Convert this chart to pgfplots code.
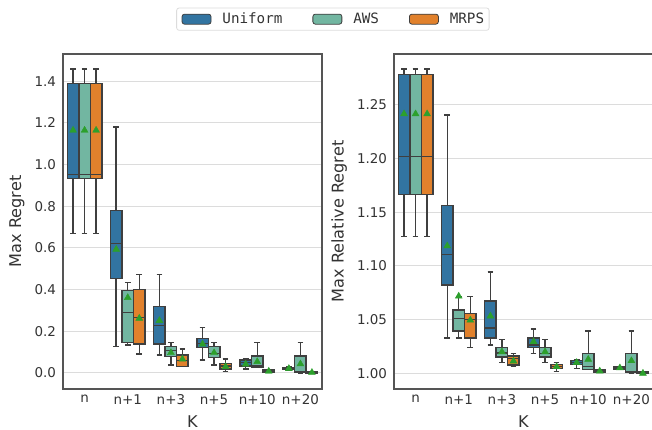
\documentclass[border=0pt]{standalone}
\usepackage{fontspec}
\setmainfont{DejaVu Sans}
\newfontfamily\monofont{DejaVu Sans Mono}
\usepackage{pgfplots}
\pgfplotsset{compat=1.18}
\usepgfplotslibrary{statistics}

\definecolor{cuni}{HTML}{3274A1}
\definecolor{caws}{HTML}{72B6A1}
\definecolor{cmrps}{HTML}{E1812C}
\definecolor{cedge}{HTML}{3F3F3F}
\definecolor{cmean}{HTML}{2CA02C}
\definecolor{cgrid}{HTML}{DCDCDC}
\definecolor{cframe}{HTML}{555555}
\definecolor{ctext}{HTML}{333333}

% box: colour, position, lower whisker, lower quartile, median, upper quartile, upper whisker
\newcommand{\bx}[7]{%
  \addplot[draw=cedge, fill=#1, line width=1.45bp,
    boxplot/draw direction=y,
    boxplot prepared={draw position=#2, lower whisker=#3, lower quartile=#4,
      median=#5, upper quartile=#6, upper whisker=#7,
      box extend=0.267, whisker extend=0.133}] coordinates {};}

\pgfplotsset{
  panel/.style={
    scale only axis, width=259bp, height=335bp,
    xmin=-0.5, xmax=5.5,
    xtick={0,1,2,3,4,5},
    xticklabels={n,n+1,n+3,n+5,n+10,n+20},
    major tick length=0pt,
    axis line style={cframe, line width=1.25bp},
    ymajorgrids, grid style={cgrid, line width=1bp},
    tick label style={ctext, font=\fontsize{13.5}{16}\selectfont},
    xticklabel style={yshift=-2bp},
    yticklabel style={xshift=-3.5bp},
    /pgf/number format/assume math mode=true,
    label style={ctext, font=\fontsize{16.2}{19}\selectfont},
    xlabel={K},
    xlabel style={at={(rel axis cs:0.5,-0.0976)}, anchor=center},
  },
  meanmk/.style={only marks, mark=triangle*, mark size=4bp,
    mark options={fill=cmean, draw=cmean, line width=0.4bp}},
}

\begin{document}
\begin{tikzpicture}
\useasboundingbox (0,0) rectangle (652bp,430bp);

% ---------------- left panel: Max Regret ----------------
\begin{axis}[panel,
  at={(63bp,41bp)}, anchor=south west,
  ymin=-0.077, ymax=1.53,
  ytick={0,0.2,0.4,0.6,0.8,1.0,1.2,1.4},
  yticklabel style={/pgf/number format/.cd, fixed, fixed zerofill, precision=1},
  ylabel={Max Regret},
  ylabel style={at={(rel axis cs:-0.178,0.5)}, anchor=center},
  legend columns=3,
  legend style={at={(rel axis cs:1.042,1.104)}, anchor=center,
    draw=cgrid, line width=0.8bp, rounded corners=2.5bp,
    inner xsep=5bp, inner ysep=3bp,
    font=\monofont\fontsize{14.3}{17}\selectfont, text=ctext,
    nodes={inner xsep=0pt, inner ysep=2bp},
    /tikz/every odd column/.append style={column sep=11bp},
    /tikz/every even column/.append style={column sep=30bp}},
  legend image code/.code={\draw[#1, line width=0.8bp] (0bp,-5bp) rectangle (29bp,5bp);},
]
\addlegendimage{draw=cedge, fill=cuni}\addlegendentry{Uniform}
\addlegendimage{draw=cedge, fill=caws}\addlegendentry{AWS}
\addlegendimage{draw=cedge, fill=cmrps}\addlegendentry{MRPS}

\bx{cuni}{-0.267}{0.670}{0.933}{0.953}{1.389}{1.458}
\bx{caws}{0}{0.670}{0.933}{0.953}{1.389}{1.458}
\bx{cmrps}{0.267}{0.670}{0.933}{0.953}{1.389}{1.458}

\bx{cuni}{0.733}{0.126}{0.454}{0.622}{0.778}{1.180}
\bx{caws}{1}{0.134}{0.147}{0.291}{0.395}{0.433}
\bx{cmrps}{1.267}{0.091}{0.138}{0.265}{0.401}{0.473}

\bx{cuni}{1.733}{0.086}{0.138}{0.227}{0.318}{0.473}
\bx{caws}{2}{0.038}{0.078}{0.107}{0.126}{0.145}
\bx{cmrps}{2.267}{0.030}{0.030}{0.059}{0.086}{0.115}

\bx{cuni}{2.733}{0.062}{0.123}{0.142}{0.166}{0.219}
\bx{caws}{3}{0.038}{0.075}{0.094}{0.126}{0.145}
\bx{cmrps}{3.267}{0.006}{0.018}{0.034}{0.046}{0.067}

\bx{cuni}{3.733}{0.018}{0.034}{0.051}{0.062}{0.070}
\bx{caws}{4}{0.025}{0.025}{0.034}{0.082}{0.145}
\bx{cmrps}{4.267}{0.001}{0.001}{0.006}{0.014}{0.014}

\bx{cuni}{4.733}{0.015}{0.018}{0.021}{0.025}{0.028}
\bx{caws}{5}{0.000}{0.001}{0.006}{0.082}{0.145}
\bx{cmrps}{5.267}{0.000}{0.000}{0.001}{0.004}{0.004}

\addplot[meanmk] coordinates {
  (-0.267,1.164) (0,1.164) (0.267,1.164)
  (0.733,0.593) (1,0.361) (1.267,0.262)
  (1.733,0.251) (2,0.097) (2.267,0.066)
  (2.733,0.138) (3,0.097) (3.267,0.030)
  (3.733,0.042) (4,0.054) (4.267,0.008)
  (4.733,0.021) (5,0.043) (5.267,0.002)
};
\end{axis}

% ---------------- right panel: Max Relative Regret ----------------
\begin{axis}[panel,
  at={(394bp,41bp)}, anchor=south west,
  ymin=0.9854, ymax=1.2974,
  ytick={1.00,1.05,1.10,1.15,1.20,1.25},
  yticklabel style={/pgf/number format/.cd, fixed, fixed zerofill, precision=2},
  ylabel={Max Relative Regret},
  ylabel style={at={(rel axis cs:-0.212,0.5)}, anchor=center},
]
\bx{cuni}{-0.267}{1.1276}{1.1664}{1.2020}{1.2782}{1.2835}
\bx{caws}{0}{1.1276}{1.1664}{1.2020}{1.2782}{1.2835}
\bx{cmrps}{0.267}{1.1276}{1.1664}{1.2020}{1.2782}{1.2835}

\bx{cuni}{0.733}{1.0331}{1.0821}{1.1106}{1.1561}{1.2407}
\bx{caws}{1}{1.0331}{1.0393}{1.0511}{1.0588}{1.0718}
\bx{cmrps}{1.267}{1.0242}{1.0331}{1.0502}{1.0558}{1.0718}

\bx{cuni}{1.733}{1.0263}{1.0331}{1.0424}{1.0672}{1.0944}
\bx{caws}{2}{1.0099}{1.0154}{1.0191}{1.0242}{1.0316}
\bx{cmrps}{2.267}{1.0061}{1.0077}{1.0140}{1.0161}{1.0186}

\bx{cuni}{2.733}{1.0186}{1.0242}{1.0263}{1.0331}{1.0412}
\bx{caws}{3}{1.0099}{1.0154}{1.0186}{1.0242}{1.0316}
\bx{cmrps}{3.267}{1.0015}{1.0046}{1.0065}{1.0084}{1.0099}

\bx{cuni}{3.733}{1.0046}{1.0084}{1.0100}{1.0117}{1.0130}
\bx{caws}{4}{1.0037}{1.0037}{1.0061}{1.0186}{1.0396}
\bx{cmrps}{4.267}{1.0009}{1.0009}{1.0020}{1.0037}{1.0037}

\bx{cuni}{4.733}{1.0037}{1.0037}{1.0050}{1.0061}{1.0061}
\bx{caws}{5}{1.0000}{1.0009}{1.0015}{1.0186}{1.0396}
\bx{cmrps}{5.267}{1.0000}{1.0000}{1.0005}{1.0015}{1.0015}

\addplot[meanmk] coordinates {
  (-0.267,1.2416) (0,1.2416) (0.267,1.2416)
  (0.733,1.1186) (1,1.0718) (1.267,1.0495)
  (1.733,1.0533) (2,1.0200) (2.267,1.0114)
  (2.733,1.0294) (3,1.0200) (3.267,1.0061)
  (3.733,1.0100) (4,1.0130) (4.267,1.0020)
  (4.733,1.0050) (5,1.0117) (5.267,1.0000)
};
\end{axis}
\end{tikzpicture}
\end{document}
